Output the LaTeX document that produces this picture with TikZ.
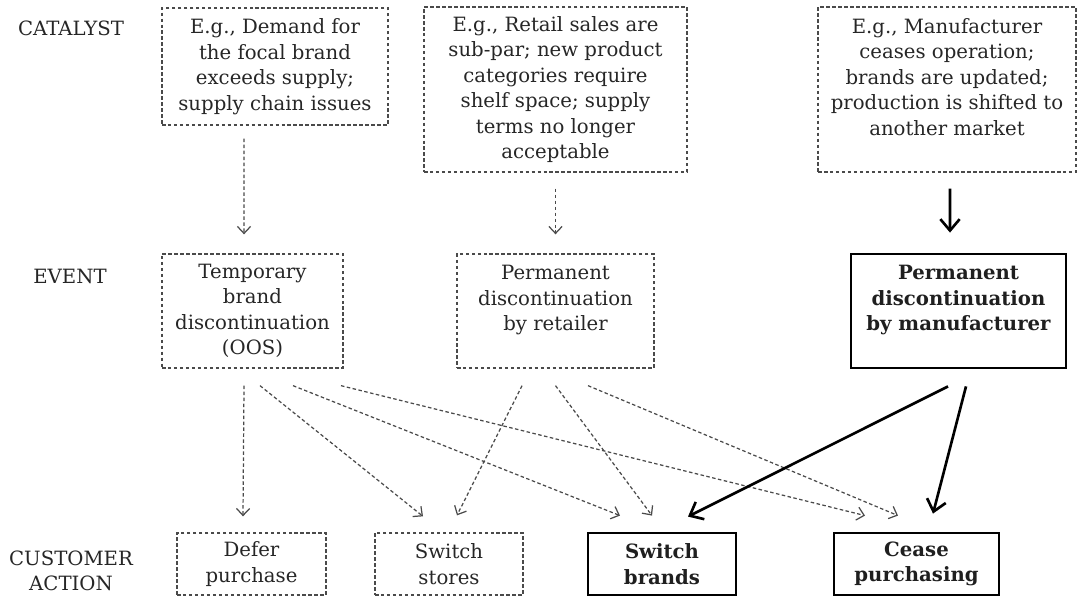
\documentclass[tikz,border=0pt]{standalone}
\usepackage{fontspec}
\setmainfont{DejaVu Serif}
\usepackage{xcolor}
\usepackage{tikz}
\usetikzlibrary{arrows.meta}
\definecolor{inkgray}{HTML}{262626}
\definecolor{linegray}{HTML}{4a4a4a}
\tikzstyle{row title}=[text=inkgray, align=center, font=\fontsize{11.2}{14.5}\selectfont]
\tikzstyle{dashed box}=[draw=linegray, dash pattern=on 2pt off 1.4pt, line width=0.75pt, text=inkgray, align=center, inner sep=0pt, font=\fontsize{11.2}{14.5}\selectfont]
\tikzstyle{solid box}=[draw=black, line width=1.6pt, text=black!88, align=center, inner sep=0pt, font=\fontsize{11.2}{14.5}\selectfont\bfseries]
\tikzstyle{dashed edge}=[draw=linegray, dash pattern=on 2pt off 1.4pt, line width=0.7pt, -{Straight Barb[length=4pt,width=7.5pt]}]
\tikzstyle{solid edge}=[draw=black, line width=1.5pt, -{Straight Barb[length=6.5pt,width=11pt]}]
\pgfdeclarelayer{nodelayer}
\pgfdeclarelayer{edgelayer}
\pgfsetlayers{nodelayer,edgelayer,main}

\begin{document}
\begin{tikzpicture}
        	\useasboundingbox (0, 0) rectangle (21.54, -11.96);
        	\begin{pgfonlayer}{nodelayer}
        		\node [style=row title] (0) at (1.42, -0.56) {CATALYST};
        		\node [style=row title] (1) at (1.40, -5.52) {EVENT};
        		\node [style=row title] (2) at (1.42, -11.42) {CUSTOMER\\ACTION};
        		\node [style=dashed box, minimum width=4.52cm, minimum height=2.34cm] (3) at (5.50, -1.33) {E.g., Demand for\\the focal brand\\exceeds supply;\\supply chain issues};
        		\node [style=dashed box, minimum width=5.26cm, minimum height=3.30cm] (4) at (11.11, -1.79) {E.g., Retail sales are\\sub-par; new product\\categories require\\shelf space; supply\\terms no longer\\acceptable};
        		\node [style=dashed box, minimum width=5.16cm, minimum height=3.30cm] (5) at (18.94, -1.79) {E.g., Manufacturer\\ceases operation;\\brands are updated;\\production is shifted to\\another market\\~};
        		\node [style=dashed box, minimum width=3.62cm, minimum height=2.28cm] (6) at (5.05, -6.22) {Temporary\\brand\\discontinuation\\(OOS)};
        		\node [style=dashed box, minimum width=3.94cm, minimum height=2.28cm] (7) at (11.11, -6.22) {Permanent\\discontinuation\\by retailer\\~};
        		\node [style=solid box, minimum width=4.30cm, minimum height=2.28cm] (8) at (19.17, -6.22) {Permanent\\discontinuation\\by manufacturer\\~};
        		\node [style=dashed box, minimum width=2.98cm, minimum height=1.24cm] (9) at (5.03, -11.28) {Defer\\purchase};
        		\node [style=dashed box, minimum width=2.96cm, minimum height=1.24cm] (10) at (8.98, -11.28) {Switch\\stores};
        		\node [style=solid box, minimum width=2.96cm, minimum height=1.24cm] (11) at (13.24, -11.28) {Switch\\brands};
        		\node [style=solid box, minimum width=3.30cm, minimum height=1.24cm] (12) at (18.33, -11.28) {Cease\\purchasing};
        	\end{pgfonlayer}
        	\begin{pgfonlayer}{edgelayer}
        		\draw [style=dashed edge] ([shift={(-0.62,-0.26)}]3.south) to ([shift={(-0.17,0.38)}]6.north);
        		\draw [style=dashed edge] ([shift={(0,-0.32)}]4.south) to ([shift={(0,0.38)}]7.north);
        		\draw [style=solid edge] ([shift={(0.06,-0.32)}]5.south) to ([shift={(-0.17,0.40)}]8.north);
        		\draw [style=dashed edge] ([shift={(-0.17,-0.34)}]6.south) to ([shift={(-0.17,0.32)}]9.north);
        		\draw [style=dashed edge] ([shift={(0.15,-0.34)}]6.south) to ([shift={(-0.52,0.32)}]10.north);
        		\draw [style=dashed edge] ([shift={(0.81,-0.34)}]6.south) to ([shift={(-0.84,0.32)}]11.north);
        		\draw [style=dashed edge] ([shift={(1.77,-0.34)}]6.south) to ([shift={(-1.03,0.32)}]12.north);
        		\draw [style=dashed edge] ([shift={(-0.67,-0.34)}]7.south) to ([shift={(0.16,0.34)}]10.north);
        		\draw [style=dashed edge] ([shift={(0,-0.34)}]7.south) to ([shift={(-0.20,0.32)}]11.north);
        		\draw [style=dashed edge] ([shift={(0.65,-0.34)}]7.south) to ([shift={(-0.37,0.32)}]12.north);
        		\draw [style=solid edge] ([shift={(-0.21,-0.34)}]8.south) to ([shift={(0.52,0.30)}]11.north);
        		\draw [style=solid edge] ([shift={(0.15,-0.34)}]8.south) to ([shift={(0.33,0.36)}]12.north);
        	\end{pgfonlayer}
        \end{tikzpicture}
\end{document}
